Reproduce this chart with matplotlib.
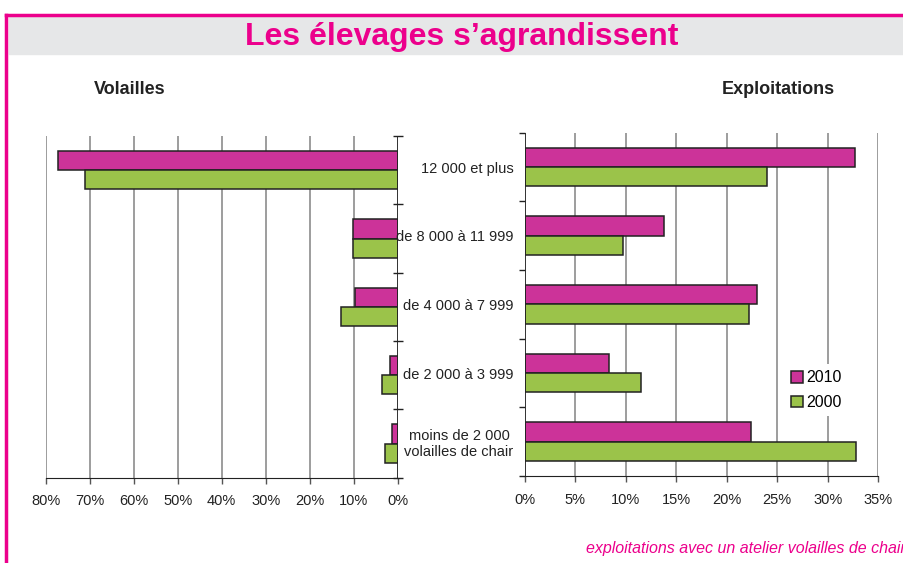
import matplotlib
matplotlib.use("Agg")
from matplotlib import pyplot as plt
from matplotlib.patches import Rectangle
from matplotlib.lines import Line2D

plt.rcParams['font.family'] = ['Liberation Sans', 'DejaVu Sans']

categories = ["12 000 et plus", "de 8 000 à 11 999", "de 4 000 à 7 999",
              "de 2 000 à 3 999", "moins de 2 000\nvolailles de chair"]
years = ["2010", "2000"]
# Volailles (% of poultry), left chart
volailles_2010 = [77.3, 10.1, 9.7, 1.7, 1.4]
volailles_2000 = [71.0, 10.1, 12.9, 3.6, 2.9]
# Exploitations (% of farms), right chart
exploit_2010 = [32.7, 13.8, 23.0, 8.3, 22.4]
exploit_2000 = [24.0, 9.7, 22.2, 11.5, 32.8]
left_ticks = [80, 70, 60, 50, 40, 30, 20, 10, 0]
right_ticks = [0, 5, 10, 15, 20, 25, 30, 35]

pink = '#CC3399'
green = '#9BC34A'
magenta = '#EC008C'
grid_col = '#8c8c8c'

fig = plt.figure(figsize=(9.04, 5.63), dpi=100)

# frame and title band
fig.patches.append(Rectangle((9 / 904, 1 - 54 / 563), 1, 38 / 563,
                             transform=fig.transFigure, color='#E6E7E8', zorder=0))
fig.lines.append(Line2D([6.5 / 904, 1], [1 - 14.5 / 563, 1 - 14.5 / 563],
                        transform=fig.transFigure, color=magenta, lw=2.5))
fig.lines.append(Line2D([6.5 / 904, 6.5 / 904], [1 - 14.5 / 563, 0],
                        transform=fig.transFigure, color=magenta, lw=2.5))

fig.text(462 / 904, 1 - 36.5 / 563, "Les élevages s\u2019agrandissent", ha='center', va='center',
         fontsize=23, fontweight='bold', color=magenta)
fig.text(130 / 904, 1 - 89 / 563, "Volailles", ha='center', va='center',
         fontsize=13, fontweight='bold', color='#222222')
fig.text(778 / 904, 1 - 89 / 563, "Exploitations", ha='center', va='center',
         fontsize=13, fontweight='bold', color='#222222')
fig.text(586 / 904, 1 - 548 / 563, "exploitations avec un atelier volailles de chair",
         ha='left', va='center', fontsize=11.5, style='italic', color=magenta)

h = 0.28
ypos = list(range(len(categories)))
bounds = [i - 0.5 for i in range(len(categories) + 1)]


def style_axes(ax):
    for s in ['top', 'left', 'right']:
        ax.spines[s].set_visible(False)
    ax.spines['bottom'].set_color('#222222')
    ax.set_ylim(len(categories) - 0.5, -0.5)
    ax.grid(axis='x', color=grid_col, lw=1.2)
    ax.set_axisbelow(True)
    ax.tick_params(axis='x', direction='out', length=4, width=1, color='#555555',
                   pad=8, labelsize=10.5, labelcolor='#222222')


# left chart
axl = fig.add_axes([45.7 / 904, 1 - 477.7 / 563, 352 / 904, 341.7 / 563])
axl.barh([y - h / 2 for y in ypos], volailles_2010, height=h, color=pink,
         edgecolor='#222222', lw=1.1)
axl.barh([y + h / 2 for y in ypos], volailles_2000, height=h, color=green,
         edgecolor='#222222', lw=1.1)
style_axes(axl)
axl.set_xlim(80, 0)
axl.set_xticks(left_ticks)
axl.set_xticklabels([f"{t}%" for t in left_ticks])
axl.axvline(0, color='#222222', lw=1.2)
axl.yaxis.tick_right()
axl.set_yticks(bounds)
axl.set_yticklabels([])
axl.tick_params(axis='y', direction='inout', length=7, width=1, color='#222222')

# right chart
axr = fig.add_axes([524.7 / 904, 1 - 476 / 563, 353.6 / 904, 343.3 / 563])
b1 = axr.barh([y - h / 2 for y in ypos], exploit_2010, height=h, color=pink,
              edgecolor='#222222', lw=1.1, label=years[0])
b2 = axr.barh([y + h / 2 for y in ypos], exploit_2000, height=h, color=green,
              edgecolor='#222222', lw=1.1, label=years[1])
style_axes(axr)
axr.set_xlim(0, 35)
axr.set_xticks(right_ticks)
axr.set_xticklabels([f"{t}%" for t in right_ticks])
axr.axvline(0, color='#222222', lw=1.2)
axr.set_yticks(bounds)
axr.set_yticklabels([])
axr.tick_params(axis='y', direction='out', length=4, width=1, color='#222222')
axr.set_yticks(ypos, minor=True)
axr.set_yticklabels(categories, minor=True, fontsize=10.5, color='#222222')
axr.tick_params(axis='y', which='minor', length=0, pad=8)
for lab in axr.get_yticklabels(minor=True):
    lab.set_multialignment('center')

leg = axr.legend(handles=[b1, b2], loc='center left', bbox_to_anchor=(0.735, 0.25),
                 frameon=True, fontsize=11.5, handlelength=0.75, handleheight=0.75,
                 handletextpad=0.2, labelspacing=0.6, borderpad=0.4, borderaxespad=0.0,
                 fancybox=False, framealpha=1)
leg.get_frame().set_facecolor('white')
leg.get_frame().set_edgecolor('none')

fig.savefig("out.png", dpi=100)
